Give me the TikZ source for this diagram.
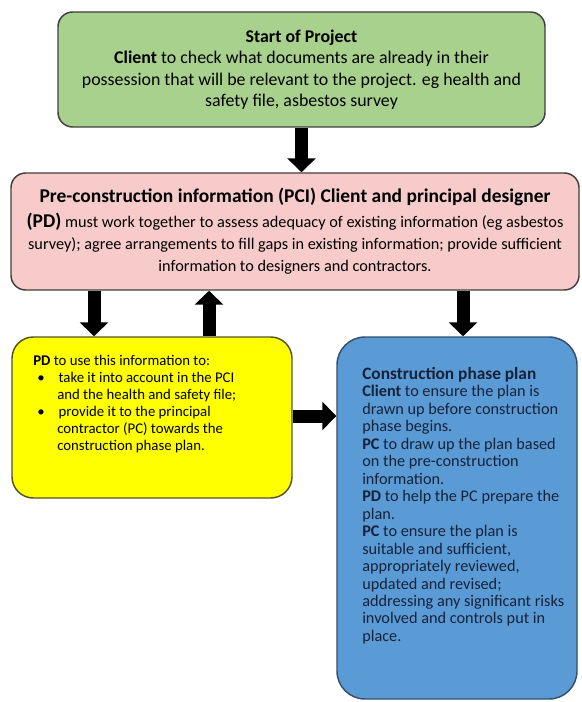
\documentclass[tikz,border=0pt]{standalone}
\usepackage{fontspec}
\setmainfont{Carlito}
\usetikzlibrary{arrows.meta}
\definecolor{gfill}{HTML}{A9D18E}
\definecolor{pfill}{HTML}{F8CBCB}
\definecolor{yfill}{HTML}{FFFF00}
\definecolor{bfill}{HTML}{5B9BD5}
\definecolor{bordc}{HTML}{404040}
\definecolor{yborder}{HTML}{55551E}
\definecolor{bborder}{HTML}{34506E}
\definecolor{bluetext}{HTML}{14223A}
\tikzset{
  box/.style={draw=bordc, line width=1.1pt, inner sep=0pt},
  bigarrow/.style={draw=black, line width=9.75pt, -{Triangle[width=21pt,length=10.5pt]}},
}
\begin{document}
\begin{tikzpicture}[x=0.75pt,y=-0.75pt]
\useasboundingbox[fill=white] (0,0) rectangle (581,702);

\node[box, fill=gfill, minimum width=365.25pt, minimum height=86.25pt, rounded corners=11pt,
      align=center, font=\fontsize{13.4}{16.1}\selectfont] (green) at (301.5,69.5)
  {\textbf{Start of Project}\\
   \textbf{Client} to check what documents are already in their\\
   possession that will be relevant to the project. eg health and\\
   safety file, asbestos survey};

\node[box, fill=pfill, minimum width=426pt, minimum height=87.75pt, rounded corners=11pt,
      align=center, font=\fontsize{12.2}{16.5}\selectfont] (pink) at (295,231.5)
  {{\fontsize{14.6}{16.5}\selectfont\bfseries Pre-construction information (PCI) Client and principal designer}\\[2pt]
   {\fontsize{14.6}{16.5}\selectfont\bfseries (PD)} must work together to assess adequacy of existing information (eg asbestos\\
   survey); agree arrangements to fill gaps in existing information; provide sufficient\\
   information to designers and contractors.};

\node[box, draw=yborder, fill=yfill, minimum width=210pt, minimum height=120.75pt, rounded corners=16pt] (yellow) at (152,417.5) {};
\node[anchor=north west, inner sep=0pt, align=left, font=\fontsize{11.1}{12.75}\selectfont] (ytext) at (33,355)
  {\textbf{PD} to use this information to:\\
   \hspace*{3pt}\textbullet\hspace*{10.5pt}take it into account in the PCI\\
   \hspace*{18pt}and the health and safety file;\\
   \hspace*{3pt}\textbullet\hspace*{10.5pt}provide it to the principal\\
   \hspace*{18pt}contractor (PC) towards the\\
   \hspace*{18pt}construction phase plan.};

\node[box, draw=bborder, fill=bfill, minimum width=180pt, minimum height=271.5pt, rounded corners=21pt] (blue) at (457,518) {};
\node[anchor=north west, inner sep=0pt, align=left, text=bluetext, font=\fontsize{12.2}{13.1}\selectfont] (btext) at (362,367)
  {{\fontsize{13}{13.1}\selectfont\bfseries Construction phase plan}\\
   \textbf{Client} to ensure the plan is\\
   drawn up before construction\\
   phase begins.\\
   \textbf{PC} to draw up the plan based\\
   on the pre-construction\\
   information.\\
   \textbf{PD} to help the PC prepare the\\
   plan.\\
   \textbf{PC} to ensure the plan is\\
   suitable and sufficient,\\
   appropriately reviewed,\\
   updated and revised;\\
   addressing any significant risks\\
   involved and controls put in\\
   place.};

\draw[bigarrow] (green.south) -- (green.south |- pink.north);
\draw[bigarrow] (94,0 |- pink.south) -- (94,0 |- yellow.north);
\draw[bigarrow] (209,0 |- yellow.north) -- (209,0 |- pink.south);
\draw[bigarrow] (463,0 |- pink.south) -- (463,0 |- blue.north);
\draw[bigarrow] (yellow.east |- 0,416) -- (blue.west |- 0,416);
\end{tikzpicture}
\end{document}
